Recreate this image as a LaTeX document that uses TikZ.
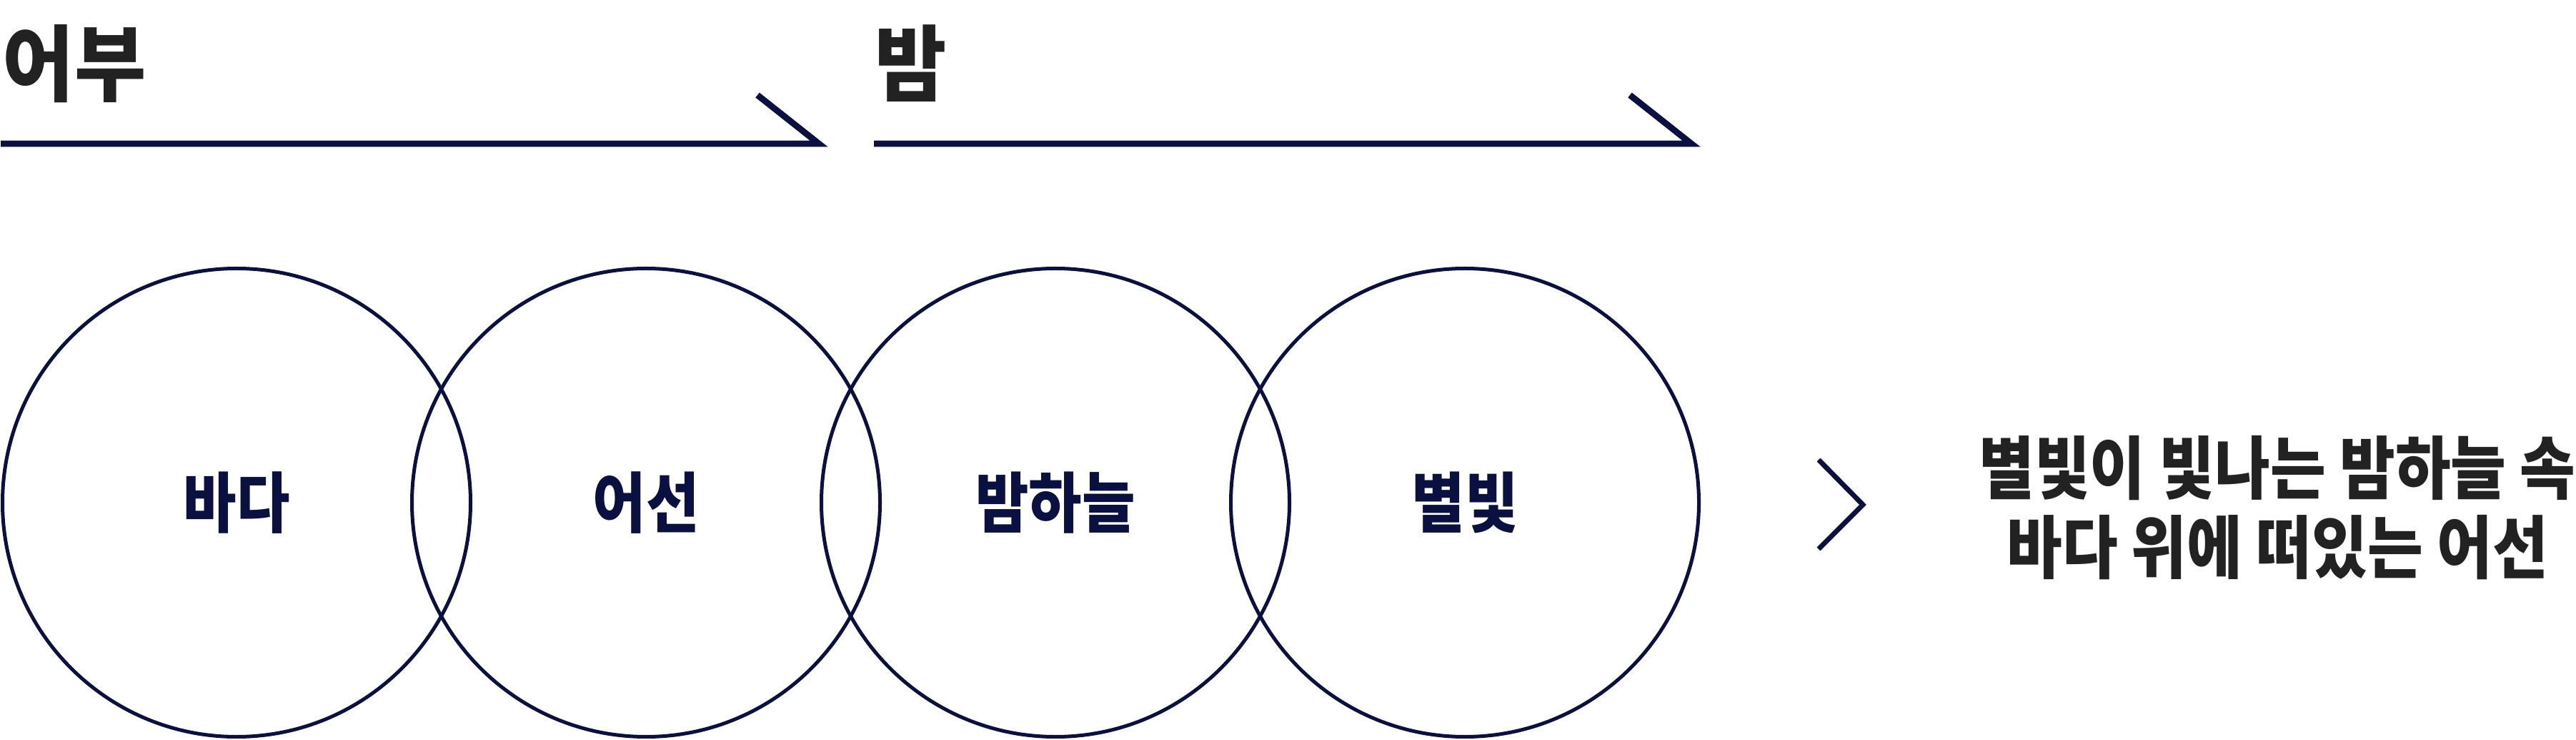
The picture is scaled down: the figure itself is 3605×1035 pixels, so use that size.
\documentclass[tikz,border=0pt]{standalone}
\usepackage{fontspec}
\newfontfamily\kr{Noto Sans CJK KR}[FakeStretch=0.88]
\newfontfamily\krh{Noto Sans CJK KR}[FakeStretch=0.94]
\definecolor{navy}{HTML}{0A1040}
\definecolor{ink}{HTML}{222222}
\tikzset{
  circ/.style={circle, draw=navy, line width=1.25pt, minimum size=163.75pt, inner sep=0pt,
    text=navy, font=\kr\bfseries\fontsize{23pt}{28pt}\selectfont},
  head/.style={anchor=west, inner sep=0pt, text=ink, font=\krh\bfseries\fontsize{29pt}{36pt}\selectfont},
  bar/.style={draw=navy, line width=2.2pt, miter limit=20},
  chev/.style={draw=navy, line width=1.75pt, miter limit=20},
  desc/.style={align=center, inner sep=0pt, text=ink, font=\kr\bfseries\fontsize{24pt}{27.75pt}\selectfont}
}
\begin{document}
\begin{tikzpicture}[x=0.25pt, y=-0.25pt]
\useasboundingbox (0,0) rectangle (3605,1035);
% headers
\node[head] (h1) at (3,89) {어부};
\node[head] (h2) at (1224,89) {밤};
% header arrows
\coordinate (a1s) at (1,201);
\coordinate (a1c) at (1146,201);
\coordinate (a1t) at (1060,133);
\draw[bar] (a1s) -- (a1c) -- (a1t);
\coordinate (a2s) at (1223,201);
\coordinate (a2c) at (2367,201);
\coordinate (a2t) at (2281,133);
\draw[bar] (a2s) -- (a2c) -- (a2t);
% circles
\node[circ] (c1) at (331,703) {바다};
\node[circ] (c2) at (904,703) {어선};
\node[circ] (c3) at (1477,703) {밤하늘};
\node[circ] (c4) at (2050,703) {별빛};
% chevron
\coordinate (v1) at (2545,643);
\coordinate (v2) at (2607,706);
\coordinate (v3) at (2545,768);
\draw[chev] (v1) -- (v2) -- (v3);
% description
\node[desc] (d) at (3187,710) {별빛이 빛나는 밤하늘 속\\바다 위에 떠있는 어선};
\end{tikzpicture}
\end{document}
